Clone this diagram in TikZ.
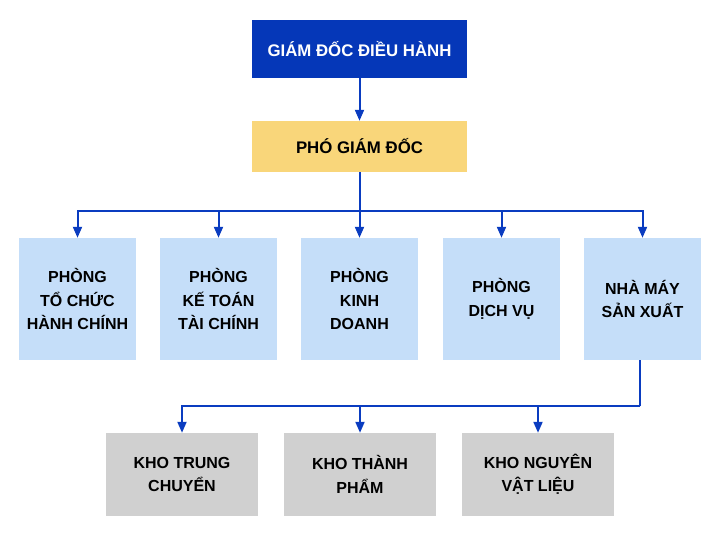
\documentclass[tikz,border=0pt]{standalone}
\usepackage{fontspec}
\setmainfont{Liberation Sans}
\usetikzlibrary{arrows.meta}
\definecolor{ceo}{HTML}{0537B8}
\definecolor{vp}{HTML}{F9D67A}
\definecolor{dept}{HTML}{C5DEF9}
\definecolor{store}{HTML}{D0D0D0}
\definecolor{conn}{HTML}{0A3CC0}
\tikzset{
  box/.style={rectangle, draw=none, align=center, inner sep=0pt, font=\bfseries\fontsize{16}{23.5}\selectfont},
  ceobox/.style={box, fill=ceo, text=white, minimum width=215pt, minimum height=58pt, font=\bfseries\fontsize{16.8}{20}\selectfont},
  vpbox/.style={box, fill=vp, text=black, minimum width=215pt, minimum height=51pt, font=\bfseries\fontsize{16.8}{20}\selectfont},
  deptbox/.style={box, fill=dept, text=black, minimum width=117pt, minimum height=122pt},
  storebox/.style={box, fill=store, text=black, minimum width=152pt, minimum height=83pt},
  line/.style={draw=conn, line width=2pt},
  arr/.style={line, -{Triangle[length=11pt,width=9pt]}}
}
\begin{document}
\begin{tikzpicture}[x=1pt,y=-1pt]
\useasboundingbox (0,0) rectangle (720,556);
\node[ceobox] (ceo) at (359.5,49) {GIÁM ĐỐC ĐIỀU HÀNH};
\node[vpbox] (vp) at (359.5,146.5) {PHÓ GIÁM ĐỐC};
\node[deptbox] (b1) at (77.5,299) {PHÒNG\\TỔ CHỨC\\HÀNH CHÍNH};
\node[deptbox] (b2) at (218.5,299) {PHÒNG\\KẾ TOÁN\\TÀI CHÍNH};
\node[deptbox] (b3) at (359.5,299) {\raisebox{1pt}{\shortstack{}}PHÒNG\\KINH\\DOANH};
\node[deptbox] (b4) at (501.5,299) {PHÒNG\\DỊCH VỤ};
\node[deptbox] (b5) at (642.5,299) {NHÀ MÁY\\SẢN XUẤT};
\node[storebox] (g1) at (182,474.5) {KHO TRUNG\\CHUYỂN};
\node[storebox] (g2) at (360,474.5) {KHO THÀNH\\PHẨM};
\node[storebox] (g3) at (538,474.5) {KHO NGUYÊN\\VẬT LIỆU};
\coordinate (j1) at (359.5,211);
\coordinate (j2) at (640,405.5);
\draw[arr] (ceo) -- (vp);
\draw[line] (vp.south) -- (j1);
\foreach \b in {b1,b2,b3,b4,b5} \draw[arr] (j1) -| (\b.north);
\draw[line] (b5.south -| j2) -- (j2);
\foreach \g in {g1,g2,g3} \draw[arr] (j2) -| (\g.north);
\end{tikzpicture}
\end{document}
